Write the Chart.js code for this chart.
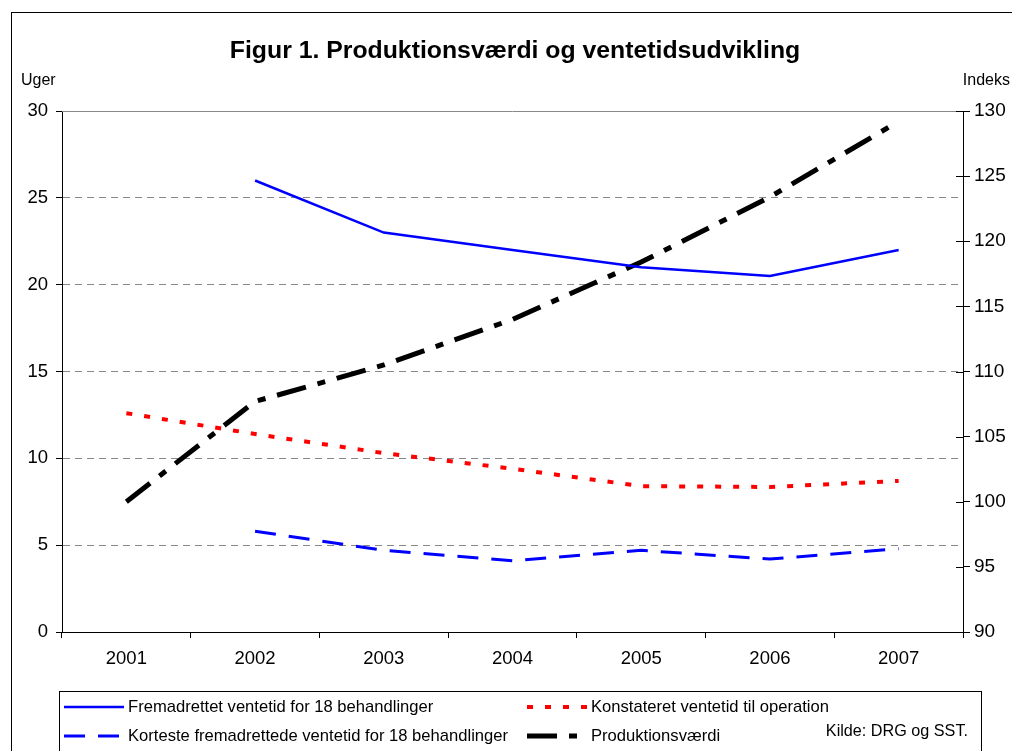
<!DOCTYPE html>
<html>
<head>
<meta charset="utf-8">
<script src="https://cdn.jsdelivr.net/npm/chart.js@4"></script>
<style>
  html, body { margin: 0; padding: 0; background: #fff; }
  #wrap { width: 1012px; height: 751px; }
</style>
</head>
<body>
<div id="wrap"><canvas id="figChart" width="1012" height="751"></canvas></div>
<script>
const years = ['2001', '2002', '2003', '2004', '2005', '2006', '2007'];
const fremadrettet = [null, 26, 23, 22, 21, 20.5, 22];
const konstateret = [12.6, 11.4, 10.3, 9.4, 8.4, 8.35, 8.7];
const korteste = [null, 5.8, 4.7, 4.1, 4.7, 4.2, 4.8];
const produktion = [100, 107.7, 110.5, 114, 118.4, 123.4, 129.2];

const FONT = '"Liberation Sans", Arial, sans-serif';

// extra drawing: frame, title, axis captions, legend box
const decorPlugin = {
  id: 'decor',
  afterDraw(chart) {
    const ctx = chart.ctx;
    const area = chart.chartArea;
    ctx.save();

    // outer frame
    ctx.strokeStyle = '#000';
    ctx.lineWidth = 1;
    ctx.strokeRect(11.5, 12.5, 1100, 800);

    // top border of plot area
    ctx.strokeStyle = '#888';
    ctx.beginPath();
    ctx.moveTo(area.left, area.top + 0.5);
    ctx.lineTo(area.right, area.top + 0.5);
    ctx.stroke();

    // right axis ticks crossing inward
    const y1 = chart.scales.y1;
    ctx.strokeStyle = '#000';
    y1.ticks.forEach(t => {
      const py = Math.round(y1.getPixelForValue(t.value)) + 0.5;
      ctx.beginPath();
      ctx.moveTo(area.right - 7, py);
      ctx.lineTo(area.right, py);
      ctx.stroke();
    });

    // title
    ctx.fillStyle = '#000';
    ctx.font = 'bold 24.8px ' + FONT;
    ctx.textAlign = 'center';
    ctx.textBaseline = 'middle';
    ctx.fillText('Figur 1. Produktionsværdi og ventetidsudvikling', 515, 51);

    ctx.font = '16px ' + FONT;
    ctx.textAlign = 'left';
    ctx.fillText('Uger', 21, 81);
    ctx.textAlign = 'right';
    ctx.fillText('Indeks', 1010, 81);

    // legend box
    ctx.strokeStyle = '#000';
    ctx.lineWidth = 1;
    ctx.strokeRect(59.5, 691.5, 922, 100);

    const ds = chart.data.datasets;
    const items = [
      { d: ds[0], x: 64, y: 707 },
      { d: ds[1], x: 527, y: 707 },
      { d: ds[2], x: 64, y: 736 },
      { d: ds[3], x: 527, y: 736 }
    ];
    ctx.font = '16.6px ' + FONT;
    ctx.textAlign = 'left';
    ctx.textBaseline = 'middle';
    items.forEach(it => {
      ctx.save();
      ctx.strokeStyle = it.d.borderColor;
      ctx.lineWidth = it.d.borderWidth;
      ctx.setLineDash(it.d.borderDash || []);
      ctx.beginPath();
      ctx.moveTo(it.x, it.y);
      ctx.lineTo(it.x + 60, it.y);
      ctx.stroke();
      ctx.restore();
      ctx.fillStyle = '#000';
      ctx.fillText(it.d.label, it.x + 64, it.y);
    });
    ctx.textAlign = 'right';
    ctx.font = '16.2px ' + FONT;
    ctx.fillText('Kilde: DRG og SST.', 968, 732);

    ctx.restore();
  }
};

const ctx = document.getElementById('figChart').getContext('2d');
new Chart(ctx, {
  type: 'line',
  data: {
    labels: years,
    datasets: [
      {
        label: 'Fremadrettet ventetid for 18 behandlinger',
        data: fremadrettet,
        borderColor: '#0000ff',
        borderWidth: 2.5,
        yAxisID: 'y'
      },
      {
        label: 'Konstateret ventetid til operation',
        data: konstateret,
        borderColor: '#ff0000',
        borderWidth: 4,
        borderDash: [6, 12],
        yAxisID: 'y'
      },
      {
        label: 'Korteste fremadrettede ventetid for 18 behandlinger',
        data: korteste,
        borderColor: '#0000ff',
        borderWidth: 3,
        borderDash: [21, 13],
        yAxisID: 'y'
      },
      {
        label: 'Produktionsværdi',
        data: produktion,
        borderColor: '#000000',
        borderWidth: 5,
        borderDash: [30, 12, 8, 12],
        yAxisID: 'y1'
      }
    ]
  },
  options: {
    responsive: false,
    animation: false,
    layout: { padding: { left: 0, right: 0, top: 111, bottom: 69 } },
    elements: {
      point: { radius: 0, hoverRadius: 0 },
      line: { tension: 0, borderCapStyle: 'butt' }
    },
    plugins: {
      legend: { display: false },
      title: { display: false },
      tooltip: { enabled: false }
    },
    scales: {
      x: {
        offset: true,
        grid: {
          offset: true,
          drawOnChartArea: false,
          tickLength: 6,
          tickColor: '#000'
        },
        border: { color: '#000', width: 1 },
        ticks: { color: '#000', font: { family: FONT, size: 18.5 }, padding: 10 },
        afterFit(scale) { scale.height = 50; }
      },
      y: {
        position: 'left',
        min: 0,
        max: 30,
        ticks: { stepSize: 5, color: '#000', font: { family: FONT, size: 18.5 }, padding: 8 },
        grid: {
          color: c => (c.tick.value === 0 || c.tick.value === 30) ? 'rgba(0,0,0,0)' : '#888',
          lineWidth: 1,
          tickLength: 6,
          tickColor: '#000'
        },
        border: { color: '#000', width: 1, dash: [7, 5] },
        afterFit(scale) { scale.width = 62; }
      },
      y1: {
        position: 'right',
        min: 90,
        max: 130,
        ticks: { stepSize: 5, color: '#000', font: { family: FONT, size: 19 }, padding: 4 },
        grid: { drawOnChartArea: false, tickLength: 7, tickColor: '#000' },
        border: { color: '#000', width: 1 },
        afterFit(scale) { scale.width = 49; }
      }
    }
  },
  plugins: [decorPlugin]
});
</script>
</body>
</html>
